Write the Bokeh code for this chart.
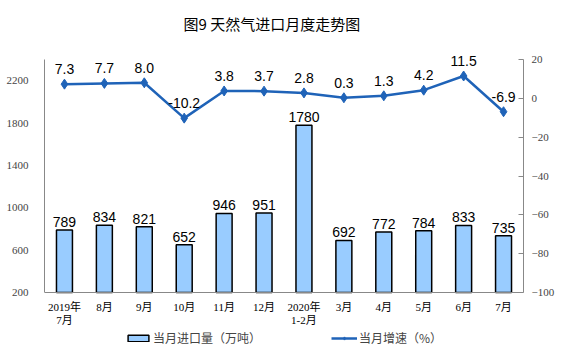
from bokeh.plotting import figure
from bokeh.models import (FactorRange, Range1d, LinearAxis, Legend, LegendItem,
                          ColumnDataSource, FixedTicker, LabelSet)
from bokeh.core.properties import value
from bokeh.embed import file_html
from bokeh.resources import INLINE

months = ["2019年\n7月", "8月", "9月", "10月", "11月", "12月", "2020年\n1-2月",
          "3月", "4月", "5月", "6月", "7月"]
imports = [789, 834, 821, 652, 946, 951, 1780, 692, 772, 784, 833, 735]
growth = [7.3, 7.7, 8.0, -10.2, 3.8, 3.7, 2.8, 0.3, 1.3, 4.2, 11.5, -6.9]
left_ticks = [200, 600, 1000, 1400, 1800, 2200]
right_ticks = [-100, -80, -60, -40, -20, 0, 20]
L_MIN, L_MAX = 200, 2400
R_MIN, R_MAX = -100, 20

src = ColumnDataSource(dict(
    m=months, imp=imports, gr=growth,
    imp_lbl=[str(v) for v in imports],
    gr_lbl=[f"{v:.1f}" for v in growth],
))

# The frame is larger than the drawn axes (top for labels, bottom for
# category labels and legend) so that nothing gets clipped.
AX_H = 233          # px spanned by the visible axes
PAD_TOP = 19        # px above the axes
PAD_BOT = 57        # px below the axes
FH = AX_H + PAD_TOP + PAD_BOT
lspp = (L_MAX - L_MIN) / AX_H
rspp = (R_MAX - R_MIN) / AX_H
p = figure(x_range=FactorRange(*months),
           y_range=Range1d(L_MIN - PAD_BOT * lspp, L_MAX + PAD_TOP * lspp),
           output_backend="svg", toolbar_location=None,
           frame_width=479, frame_height=FH,
           min_border_left=44, min_border_right=30, min_border_top=40, min_border_bottom=0)
p.extra_y_ranges = {"pct": Range1d(R_MIN - PAD_BOT * rspp, R_MAX + PAD_TOP * rspp)}

p.title.text = "图9 天然气进口月度走势图"
p.title.align = "left"
p.title.text_font = "Noto Sans CJK SC"
p.title.text_font_size = "15px"
p.title.text_font_style = "normal"
p.title.text_color = "black"
p.title.offset = 139
p.title.standoff = 13

p.outline_line_color = None
p.xgrid.grid_line_color = None
p.ygrid.grid_line_color = None

bars = p.vbar(x="m", top="imp", bottom=L_MIN, width=0.4, source=src,
              fill_color="#99CCFF", line_color="black", line_width=1.5)
ln = p.line(x="m", y="gr", source=src, y_range_name="pct",
            line_color="#1F63B8", line_width=2.5)
mk = p.scatter(x="m", y="gr", source=src, y_range_name="pct", marker="diamond",
               size=10, fill_color="#1F63B8", line_color="#1F63B8")

p.add_layout(LabelSet(x="m", y="imp", text="imp_lbl", source=src, y_offset=3,
                      text_align="center", text_font=value("Liberation Sans"),
                      text_font_size="14px", text_color="black"))
p.add_layout(LabelSet(x="m", y="gr", text="gr_lbl", source=src, y_range_name="pct",
                      y_offset=10, text_align="center", text_font=value("Liberation Sans"),
                      text_font_size="14px", text_color="black"))

tickfont = "'Liberation Serif', 'Noto Sans CJK SC'"

# category labels under the axis line
p.text(x="m", y=L_MIN, text="m", source=src, y_offset=8,
       text_align="center", text_baseline="top", text_line_height=1.15,
       text_font=value(tickfont), text_font_size="11px", text_color="black")

ax = p.yaxis[0]
ax.ticker = FixedTicker(ticks=left_ticks)
ax.bounds = (L_MIN, L_MAX)
ax.axis_line_color = "#888888"
ax.major_tick_line_color = None
ax.minor_tick_line_color = None
ax.major_label_text_font = tickfont
ax.major_label_text_font_size = "11px"
ax.major_label_standoff = 10

ry = LinearAxis(y_range_name="pct", ticker=FixedTicker(ticks=right_ticks), bounds=(R_MIN, R_MAX))
ry.axis_line_color = "#888888"
ry.major_tick_in = 5
ry.major_tick_out = 0
ry.major_tick_line_color = "#888888"
ry.minor_tick_line_color = None
ry.major_label_text_font = tickfont
ry.major_label_text_font_size = "11px"
ry.major_label_standoff = 8
p.add_layout(ry, "right")

xa = p.xaxis[0]
xa.fixed_location = L_MIN
xa.ticker = FixedTicker(ticks=[])
xa.axis_line_color = "#888888"
xa.major_tick_line_color = None
xa.minor_tick_line_color = None
xa.major_label_standoff = 0

legend = Legend(items=[LegendItem(label="当月进口量（万吨）", renderers=[bars]),
                       LegendItem(label="当月增速（%）", renderers=[ln, mk])],
                orientation="horizontal", location=(81, 3),
                label_text_font="Noto Sans CJK SC", label_text_font_size="12px",
                glyph_width=26, glyph_height=8, spacing=70, padding=0, margin=0,
                label_standoff=2,
                border_line_color=None, background_fill_alpha=0)
p.add_layout(legend, "center")

open("out.html", "w").write(file_html(p, INLINE))
